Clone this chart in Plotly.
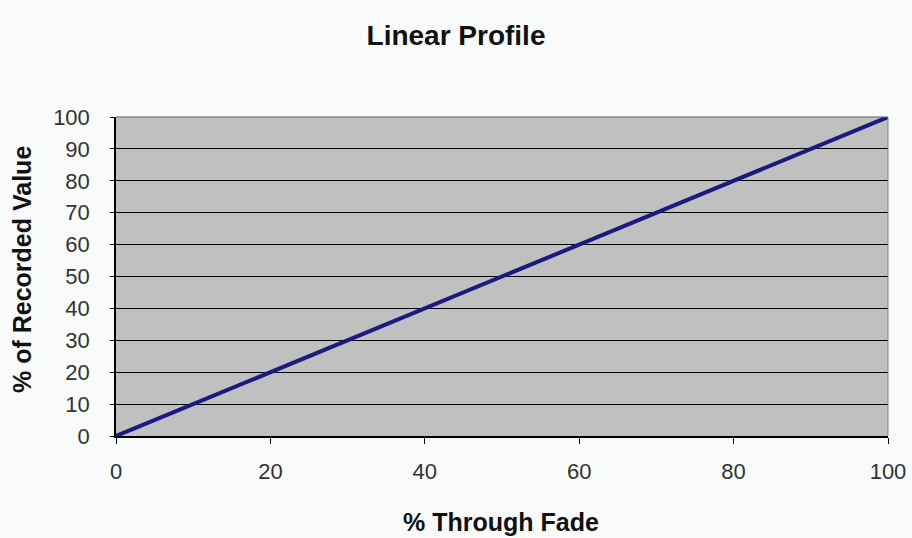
import plotly.graph_objects as go

# Fade profile: percent through the fade vs percent of recorded value
fade_pct = [0, 10, 20, 30, 40, 50, 60, 70, 80, 90, 100]
recorded_pct = [0, 10, 20, 30, 40, 50, 60, 70, 80, 90, 100]

x_ticks = [0, 20, 40, 60, 80, 100]
y_ticks = [0, 10, 20, 30, 40, 50, 60, 70, 80, 90, 100]

fig = go.Figure()
fig.add_trace(go.Scatter(
    x=fade_pct, y=recorded_pct, mode="lines",
    line=dict(color="#1a1a80", width=4),
    showlegend=False,
))

W, H = 912, 538
left, right, top, bottom = 116, 888, 117, 436

fig.update_layout(
    width=W, height=H,
    margin=dict(l=left, r=W - right, t=top, b=H - bottom, autoexpand=False),
    paper_bgcolor="#f8fbf9",
    plot_bgcolor="#c0c0c0",
    font=dict(family="Liberation Sans, Arial, sans-serif", color="#111111"),
    title=dict(text="<b>Linear Profile</b>", x=0.5, xanchor="center",
               y=1 - 35 / H, yanchor="middle", font=dict(size=28)),
    xaxis=dict(
        range=[0, 100], tickvals=x_ticks, ticks="outside", ticklen=6,
        tickcolor="#000", showgrid=False, zeroline=False, automargin=False,
        showline=True, linecolor="#000", linewidth=1.5, mirror=False,
        tickfont=dict(size=22, color="#333"), ticklabelstandoff=9,
    ),
    yaxis=dict(
        range=[0, 100], tickvals=y_ticks, ticks="outside", ticklen=4,
        tickcolor="#000", showgrid=True, automargin=False,
        gridcolor="#000", gridwidth=1.2, zeroline=False,
        showline=True, linecolor="#000", linewidth=1.5,
        tickfont=dict(size=22, color="#333"), ticklabelstandoff=16,
    ),
    annotations=[
        dict(text="<b>% Through Fade</b>", xref="paper", yref="paper",
             x=(501 - left) / (right - left), y=(bottom - 522) / (bottom - top),
             xanchor="center", yanchor="middle", showarrow=False,
             font=dict(size=25)),
        dict(text="<b>% of Recorded Value</b>", xref="paper", yref="paper",
             x=(22 - left) / (right - left), y=(bottom - 270) / (bottom - top),
             xanchor="center", yanchor="middle", showarrow=False,
             textangle=-90, font=dict(size=25)),
    ],
)

# gray border on the right and top edges of the plot area
fig.add_shape(type="line", xref="paper", yref="paper", x0=1, x1=1, y0=0, y1=1,
              line=dict(color="#808080", width=1))
fig.add_shape(type="line", xref="paper", yref="paper", x0=0, x1=1, y0=1, y1=1,
              line=dict(color="#606060", width=1))

fig.write_html("out.html")
